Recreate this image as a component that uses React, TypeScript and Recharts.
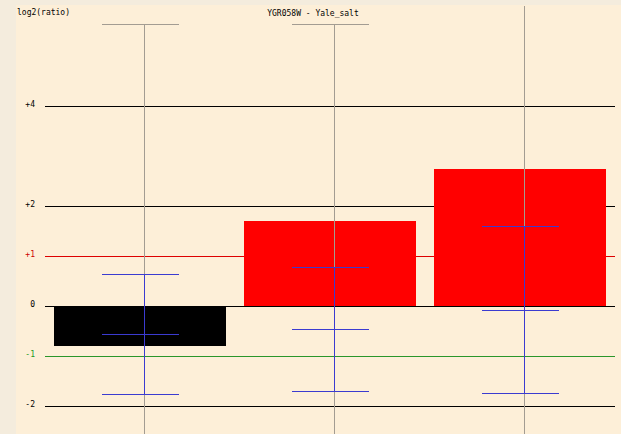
import { ComposedChart, Bar, XAxis, YAxis, ReferenceLine, Cell } from 'recharts'

const categories = ['rep1', 'rep2', 'rep3']
const ratios = [-0.8, 1.7, 2.74]
const spreadHigh = [0.64, 0.79, 1.59]
const spreadMid = [-0.56, -0.45, -0.07]
const spreadLow = [-1.76, -1.69, -1.73]
const rangeHigh = [5.64, 5.64, 6.5]
const rangeLow = [-3, -3, -3]
const barColors = ['#000000', '#ff0000', '#ff0000']

const yTicks = [4, 2, 1, 0, -1, -2]
const tickLabels = ['+4', '+2', '+1', '0', '-1', '-2']
const tickColors = ['#000000', '#000000', '#cc0000', '#000000', '#229922', '#000000']
const lineColors = ['#000000', '#000000', '#dd0000', '#000000', '#2a962a', '#000000']

const data = categories.map((name, i) => ({
  name,
  ratio: ratios[i],
  spread: [spreadLow[i], spreadHigh[i]],
  mid: spreadMid[i],
  range: [rangeLow[i], rangeHigh[i]],
}))

const FONT = '"DejaVu Sans Mono", "Liberation Mono", monospace'

// snap to pixel centre so 1px strokes stay sharp
const px = (v: number) => Math.round(v) + 0.5

// grey whisker: vertical line slightly right of bar centre, cap on top
function RangeShape(props: any) {
  const { x, y, width, height } = props
  const cx = Math.round(x + width / 2)
  const top = px(Math.min(y, y + height))
  const bottom = Math.max(y, y + height)
  return (
    <g>
      <line x1={cx + 4.5} x2={cx + 4.5} y1={top} y2={bottom} stroke="#a39c92" strokeWidth={1} />
      <line x1={cx - 38} x2={cx + 39} y1={top} y2={top} stroke="#a39c92" strokeWidth={1} />
    </g>
  )
}

// blue spread: three caps plus the vertical
function SpreadShape(props: any) {
  const { x, y, width, height, payload } = props
  const cx = Math.round(x + width / 2)
  const top = Math.min(y, y + height)
  const bottom = Math.max(y, y + height)
  const [lo, hi] = payload.spread
  const midY = top + ((bottom - top) * (hi - payload.mid)) / (hi - lo)
  const stroke = '#3b3bd0'
  return (
    <g>
      <line x1={cx + 4.5} x2={cx + 4.5} y1={px(top)} y2={px(bottom)} stroke={stroke} strokeWidth={1} />
      {[top, midY, bottom].map((yy, i) => (
        <line key={i} x1={cx - 38} x2={cx + 39} y1={px(yy)} y2={px(yy)} stroke={stroke} strokeWidth={1} />
      ))}
    </g>
  )
}

function YTick(props: any) {
  const { x, y, payload } = props
  const i = yTicks.indexOf(payload.value)
  return (
    <text x={x} y={y + 0.5} textAnchor="end" fontFamily={FONT} fontSize={8} fill={tickColors[i]}>
      {tickLabels[i]}
    </text>
  )
}

export default function App() {
  return (
    <div
      style={{
        position: 'absolute',
        top: 0,
        left: 0,
        width: 621,
        height: 434,
        overflow: 'hidden',
        backgroundColor: '#f4ecdd',
      }}
    >
      <div
        style={{ position: 'absolute', left: 16, top: 5, right: 0, bottom: 0, backgroundColor: '#fdefd8' }}
      />
      <div style={{ position: 'absolute', top: 0, left: 0 }}>
        <ComposedChart
          width={621}
          height={440}
          data={data}
          margin={{ top: 6, right: 6, left: 0, bottom: 4 }}
          barCategoryGap={9}
        >
          <text x={17} y={15} fontFamily={FONT} fontSize={8} fill="#000">
            log2(ratio)
          </text>
          <text x={313} y={16} textAnchor="middle" fontFamily={FONT} fontSize={8} fill="#000">
            YGR058W - Yale_salt
          </text>
          <XAxis xAxisId="main" dataKey="name" hide />
          <XAxis xAxisId="range" dataKey="name" hide />
          <XAxis xAxisId="spread" dataKey="name" hide />
          <YAxis
            type="number"
            domain={[-2.6, 6]}
            allowDataOverflow
            ticks={yTicks}
            width={45}
            axisLine={false}
            tickLine={false}
            tickSize={0}
            tickMargin={10}
            tick={<YTick />}
            interval={0}
          />
          {yTicks.map((v, i) => (
            <ReferenceLine
              key={v}
              y={v}
              xAxisId="main"
              stroke={lineColors[i]}
              strokeWidth={1}
              shapeRendering="crispEdges"
              zIndex={-10}
              ifOverflow="hidden"
            />
          ))}
          <Bar xAxisId="main" dataKey="ratio" isAnimationActive={false}>
            {data.map((d, i) => (
              <Cell key={d.name} fill={barColors[i]} />
            ))}
          </Bar>
          <Bar xAxisId="range" dataKey="range" isAnimationActive={false} shape={<RangeShape />} />
          <Bar xAxisId="spread" dataKey="spread" isAnimationActive={false} shape={<SpreadShape />} />
        </ComposedChart>
      </div>
    </div>
  )
}
